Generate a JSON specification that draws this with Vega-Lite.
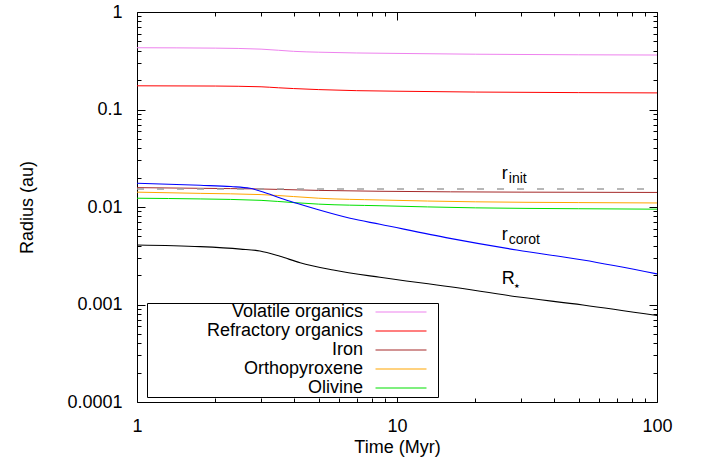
{
  "$schema": "https://vega.github.io/schema/vega-lite/v6.json",
  "width": 520,
  "height": 390,
  "autosize": {"type": "none"},
  "padding": {"left": 137, "top": 12, "right": 45, "bottom": 63},
  "background": "white",
  "config": {
    "view": {"stroke": "black", "strokeWidth": 1},
    "font": "Liberation Sans",
    "axis": {
      "grid": false,
      "domain": false,
      "ticks": true,
      "tickColor": "black",
      "tickWidth": 1,
      "labelColor": "black",
      "titleColor": "black",
      "labelFont": "Liberation Sans",
      "titleFont": "Liberation Sans",
      "labelFontSize": 18,
      "titleFontSize": 18,
      "titleFontWeight": "normal",
      "labelOverlap": false,
      "labelFlush": false
    }
  },
  "datasets": {
    "lines": [
      {"series": "Volatile organics", "t": 1, "r": 0.43},
      {"series": "Volatile organics", "t": 2, "r": 0.426},
      {"series": "Volatile organics", "t": 3, "r": 0.416},
      {"series": "Volatile organics", "t": 3.5, "r": 0.405},
      {"series": "Volatile organics", "t": 4, "r": 0.395},
      {"series": "Volatile organics", "t": 5, "r": 0.387},
      {"series": "Volatile organics", "t": 7, "r": 0.38},
      {"series": "Volatile organics", "t": 10, "r": 0.376},
      {"series": "Volatile organics", "t": 20, "r": 0.369},
      {"series": "Volatile organics", "t": 50, "r": 0.364},
      {"series": "Volatile organics", "t": 100, "r": 0.362},
      {"series": "Refractory organics", "t": 1, "r": 0.175},
      {"series": "Refractory organics", "t": 2, "r": 0.174},
      {"series": "Refractory organics", "t": 3, "r": 0.171},
      {"series": "Refractory organics", "t": 3.5, "r": 0.167},
      {"series": "Refractory organics", "t": 4, "r": 0.164},
      {"series": "Refractory organics", "t": 5, "r": 0.16},
      {"series": "Refractory organics", "t": 7, "r": 0.156},
      {"series": "Refractory organics", "t": 10, "r": 0.154},
      {"series": "Refractory organics", "t": 20, "r": 0.151},
      {"series": "Refractory organics", "t": 50, "r": 0.149},
      {"series": "Refractory organics", "t": 100, "r": 0.148},
      {"series": "Iron", "t": 1, "r": 0.0158},
      {"series": "Iron", "t": 1.75, "r": 0.01555},
      {"series": "Iron", "t": 3, "r": 0.0153},
      {"series": "Iron", "t": 5, "r": 0.0148},
      {"series": "Iron", "t": 8.6, "r": 0.0145},
      {"series": "Iron", "t": 30, "r": 0.0142},
      {"series": "Iron", "t": 100, "r": 0.0141},
      {"series": "Orthopyroxene", "t": 1, "r": 0.0142},
      {"series": "Orthopyroxene", "t": 1.75, "r": 0.0138},
      {"series": "Orthopyroxene", "t": 3, "r": 0.0134},
      {"series": "Orthopyroxene", "t": 4, "r": 0.0128},
      {"series": "Orthopyroxene", "t": 5, "r": 0.0123},
      {"series": "Orthopyroxene", "t": 8.6, "r": 0.0118},
      {"series": "Orthopyroxene", "t": 20, "r": 0.0113},
      {"series": "Orthopyroxene", "t": 50, "r": 0.0111},
      {"series": "Orthopyroxene", "t": 100, "r": 0.011},
      {"series": "Olivine", "t": 1, "r": 0.0123},
      {"series": "Olivine", "t": 1.75, "r": 0.0121},
      {"series": "Olivine", "t": 3, "r": 0.0117},
      {"series": "Olivine", "t": 4, "r": 0.0111},
      {"series": "Olivine", "t": 5, "r": 0.0107},
      {"series": "Olivine", "t": 8.6, "r": 0.0103},
      {"series": "Olivine", "t": 20, "r": 0.0098},
      {"series": "Olivine", "t": 50, "r": 0.0096},
      {"series": "Olivine", "t": 100, "r": 0.0095},
      {"series": "r_init", "t": 1, "r": 0.0153},
      {"series": "r_init", "t": 100, "r": 0.0153},
      {"series": "r_corot", "t": 1, "r": 0.0175},
      {"series": "r_corot", "t": 1.75, "r": 0.0167},
      {"series": "r_corot", "t": 2.3, "r": 0.0162},
      {"series": "r_corot", "t": 2.72, "r": 0.01555},
      {"series": "r_corot", "t": 3.155, "r": 0.01382},
      {"series": "r_corot", "t": 3.6, "r": 0.0122},
      {"series": "r_corot", "t": 4.114, "r": 0.01091},
      {"series": "r_corot", "t": 4.912, "r": 0.00947},
      {"series": "r_corot", "t": 6.6, "r": 0.00766},
      {"series": "r_corot", "t": 8.6, "r": 0.00665},
      {"series": "r_corot", "t": 16, "r": 0.00477},
      {"series": "r_corot", "t": 28.9, "r": 0.00362},
      {"series": "r_corot", "t": 51.9, "r": 0.00286},
      {"series": "r_corot", "t": 100, "r": 0.00206},
      {"series": "R_star", "t": 1, "r": 0.00408},
      {"series": "R_star", "t": 1.75, "r": 0.00392},
      {"series": "R_star", "t": 2.5, "r": 0.0037},
      {"series": "R_star", "t": 2.97, "r": 0.00354},
      {"series": "R_star", "t": 3.55, "r": 0.00312},
      {"series": "R_star", "t": 4.24, "r": 0.00268},
      {"series": "R_star", "t": 5.69, "r": 0.00226},
      {"series": "R_star", "t": 8.6, "r": 0.0019},
      {"series": "R_star", "t": 16, "r": 0.00152},
      {"series": "R_star", "t": 28.9, "r": 0.0012},
      {"series": "R_star", "t": 51.9, "r": 0.00099},
      {"series": "R_star", "t": 100, "r": 0.00077}
    ],
    "labels": [
      {"main": "r", "sub": "init", "t": 25.3, "r": 0.0194},
      {"main": "r", "sub": "corot", "t": 25.3, "r": 0.00459},
      {"main": "R", "sub": "⋆", "t": 25.3, "r": 0.00162}
    ]
  },
  "layer": [
    {
      "data": {"name": "lines"},
      "transform": [{"filter": {"field": "series", "oneOf": ["Volatile organics", "Refractory organics", "Iron", "Orthopyroxene", "Olivine"]}}],
      "mark": {"type": "line", "strokeWidth": 1, "interpolate": "monotone"},
      "encoding": {
        "x": {
          "field": "t", "type": "quantitative",
          "scale": {"type": "log", "domain": [1, 100], "nice": false},
          "axis": {
            "orient": "bottom",
            "title": "Time (Myr)",
            "titlePadding": 3,
            "labelPadding": 15,
            "offset": -8,
            "tickSize": 8,
            "values": [1, 10, 100],
            "format": "~g"
          }
        },
        "y": {
          "field": "r", "type": "quantitative",
          "scale": {"type": "log", "domain": [0.0001, 1], "nice": false},
          "axis": {
            "orient": "left",
            "title": "Radius (au)",
            "titlePadding": 30,
            "labelPadding": 15,
            "offset": -8,
            "tickSize": 8,
            "values": [0.0001, 0.001, 0.01, 0.1, 1],
            "format": "~g"
          }
        },
        "color": {
          "field": "series", "type": "nominal",
          "scale": {
            "domain": ["Volatile organics", "Refractory organics", "Iron", "Orthopyroxene", "Olivine"],
            "range": ["#ee82ee", "#ff0000", "#a52a2a", "#ffa500", "#00e000"]
          },
          "legend": {
            "orient": "none",
            "legendX": 10,
            "legendY": 291,
            "title": "MMM",
            "titleOrient": "left",
            "titleColor": "transparent",
            "titleFontSize": 17,
            "titlePadding": 16,
            "strokeColor": "black",
            "fillColor": "white",
            "padding": 0,
            "symbolType": "M-5,0H5M6.6,0",
            "symbolSize": 104,
            "symbolStrokeWidth": 1.2,
            "labelFontSize": 18,
            "labelFont": "Liberation Sans",
            "labelColor": "black",
            "labelLimit": 400,
            "rowPadding": 1,
            "encode": {
              "symbols": {"update": {"x": {"value": 195}}},
              "labels": {"update": {"x": {"value": 157}, "align": {"value": "right"}}}
            }
          }
        }
      }
    },
    {
      "data": {"name": "lines"},
      "transform": [{"filter": "datum.series == 'r_init'"}],
      "mark": {"type": "line", "strokeWidth": 1.5, "color": "#a0a0a0", "strokeDash": [7, 13]},
      "encoding": {
        "x": {
          "field": "t", "type": "quantitative",
          "scale": {"type": "log", "domain": [1, 100], "nice": false},
          "axis": {"orient": "top", "title": null, "labels": false, "values": [1, 10, 100], "offset": -8, "tickSize": 8}
        },
        "y": {
          "field": "r", "type": "quantitative",
          "scale": {"type": "log", "domain": [0.0001, 1], "nice": false},
          "axis": {"orient": "right", "title": null, "labels": false, "values": [0.0001, 0.001, 0.01, 0.1, 1], "offset": -8, "tickSize": 8}
        }
      }
    },
    {
      "data": {"name": "lines"},
      "transform": [{"filter": {"field": "series", "oneOf": ["r_corot", "R_star"]}}],
      "mark": {"type": "line", "strokeWidth": 1.1, "interpolate": "monotone"},
      "encoding": {
        "x": {
          "field": "t", "type": "quantitative",
          "axis": {"orient": "bottom", "title": null, "labels": false, "values": [2,3,4,5,6,7,8,9,20,30,40,50,60,70,80,90], "offset": -4, "tickSize": 4}
        },
        "y": {
          "field": "r", "type": "quantitative",
          "axis": {"orient": "left", "title": null, "labels": false, "values": [0.0002,0.0003,0.0004,0.0005,0.0006,0.0007,0.0008,0.0009,0.002,0.003,0.004,0.005,0.006,0.007,0.008,0.009,0.02,0.03,0.04,0.05,0.06,0.07,0.08,0.09,0.2,0.3,0.4,0.5,0.6,0.7,0.8,0.9], "offset": -4, "tickSize": 4}
        },
        "detail": {"field": "series"},
        "color": {"condition": {"test": "datum.series == 'r_corot'", "value": "#0000ff"}, "value": "black"}
      }
    },
    {
      "data": {"name": "labels"},
      "mark": {"type": "text", "align": "left", "baseline": "alphabetic", "fontSize": 18, "font": "Liberation Sans", "color": "black"},
      "encoding": {
        "x": {
          "field": "t", "type": "quantitative",
          "axis": {"orient": "top", "title": null, "labels": false, "values": [2,3,4,5,6,7,8,9,20,30,40,50,60,70,80,90], "offset": -4, "tickSize": 4}
        },
        "y": {
          "field": "r", "type": "quantitative",
          "axis": {"orient": "right", "title": null, "labels": false, "values": [0.0002,0.0003,0.0004,0.0005,0.0006,0.0007,0.0008,0.0009,0.002,0.003,0.004,0.005,0.006,0.007,0.008,0.009,0.02,0.03,0.04,0.05,0.06,0.07,0.08,0.09,0.2,0.3,0.4,0.5,0.6,0.7,0.8,0.9], "offset": -4, "tickSize": 4}
        },
        "text": {"field": "main"}
      }
    },
    {
      "data": {"name": "labels"},
      "transform": [{"filter": "datum.main == 'r'"}],
      "mark": {"type": "text", "align": "left", "baseline": "alphabetic", "fontSize": 14, "font": "Liberation Sans", "color": "black", "dx": 7, "dy": 4},
      "encoding": {
        "x": {"field": "t", "type": "quantitative", "axis": null},
        "y": {"field": "r", "type": "quantitative", "axis": null},
        "text": {"field": "sub"}
      }
    },
    {
      "data": {"name": "labels"},
      "transform": [{"filter": "datum.main == 'R'"}],
      "mark": {"type": "text", "align": "left", "baseline": "alphabetic", "fontSize": 13, "font": "DejaVu Sans", "color": "black", "dx": 11, "dy": 6},
      "encoding": {
        "x": {"field": "t", "type": "quantitative", "axis": null},
        "y": {"field": "r", "type": "quantitative", "axis": null},
        "text": {"field": "sub"}
      }
    }
  ],
  "resolve": {"axis": {"x": "independent", "y": "independent"}}
}
